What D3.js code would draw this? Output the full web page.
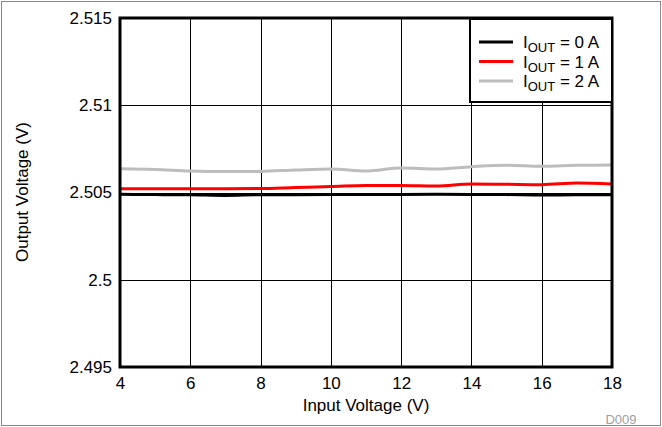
<!DOCTYPE html>
<html><head><meta charset="utf-8">
<script src="https://cdn.jsdelivr.net/npm/d3@7"></script>
<style>body{margin:0;background:#fff}svg{display:block;font-family:"Liberation Sans",Arial,sans-serif}</style>
</head><body><svg id="c" width="662" height="427"></svg>
<script>
const vin = [4,5,6,7,8,9,10,11,12,13,14,15,16,17,18];
const iout0 = [2.50490,2.50488,2.50487,2.50483,2.50487,2.50487,2.50488,2.50488,2.50489,2.50490,2.50489,2.50488,2.50485,2.50487,2.50487];
const iout1 = [2.50522,2.50522,2.50522,2.50522,2.50523,2.50529,2.50534,2.50540,2.50540,2.50537,2.50549,2.50547,2.50545,2.50554,2.50549];
const iout2 = [2.50636,2.50632,2.50623,2.50620,2.50621,2.50629,2.50635,2.50623,2.50640,2.50635,2.50648,2.50656,2.50650,2.50656,2.50658];
const seriesNames = ["0 A","1 A","2 A"];
const seriesColors = ["#000000","#ff0000","#bdbdbd"];
const xTicks = [4,6,8,10,12,14,16,18];
const yTicks = [2.495,2.5,2.505,2.51,2.515];

const FONT = "Liberation Sans, Arial, sans-serif";
const svg = d3.select("#c");
svg.append("rect").attr("x",1.5).attr("y",1.5).attr("width",659).attr("height",424)
  .attr("fill","none").attr("stroke","#888").attr("stroke-width",1);

const L=120,R=612,T=18,B=367;
const x = d3.scaleLinear().domain([4,18]).range([L,R]);
const y = d3.scaleLinear().domain([2.495,2.515]).range([B,T]);

const g = svg.append("g");
g.selectAll(".vg").data(xTicks).join("line").attr("x1",d=>Math.round(x(d))+0.5).attr("x2",d=>Math.round(x(d))+0.5)
  .attr("y1",T).attr("y2",B).attr("stroke","#000").attr("stroke-width",1);
g.selectAll(".hg").data(yTicks).join("line").attr("y1",d=>Math.round(y(d))+0.5).attr("y2",d=>Math.round(y(d))+0.5)
  .attr("x1",L).attr("x2",R).attr("stroke","#000").attr("stroke-width",1);

const xAxis = d3.axisBottom(x).tickValues(xTicks).tickSize(0).tickPadding(10).tickFormat(d3.format("d"));
const xa = svg.append("g").attr("transform",`translate(0,${B})`).call(xAxis);
xa.select(".domain").remove();
xa.selectAll("text").attr("font-size",17).attr("fill","#000").attr("font-family",FONT);
const yAxis = d3.axisLeft(y).tickValues(yTicks).tickSize(0).tickPadding(8).tickFormat(d=>String(+d.toFixed(3)));
const ya = svg.append("g").attr("transform",`translate(${L},0)`).call(yAxis);
ya.select(".domain").remove();
ya.selectAll("text").attr("font-size",17).attr("fill","#000").attr("font-family",FONT);

const data = [iout0,iout1,iout2];
const line = d3.line().x((d,i)=>x(vin[i])).y(d=>y(d)).curve(d3.curveMonotoneX);
[2,1,0].forEach(k=>{
  svg.append("path").datum(data[k]).attr("d",line).attr("fill","none")
    .attr("stroke",seriesColors[k]).attr("stroke-width",3);
});

svg.append("rect").attr("x",L).attr("y",T).attr("width",R-L).attr("height",B-T)
  .attr("fill","none").attr("stroke","#000").attr("stroke-width",3);

const lg = svg.append("g");
lg.append("rect").attr("x",470).attr("y",T+1).attr("width",R-470).attr("height",83)
  .attr("fill","#fff").attr("stroke","#000").attr("stroke-width",2);
seriesNames.forEach((n,i)=>{
  const yy = 42 + i*19.5;
  lg.append("line").attr("x1",479).attr("x2",513).attr("y1",yy).attr("y2",yy)
    .attr("stroke",seriesColors[i]).attr("stroke-width",3);
  const t = lg.append("text").attr("x",523).attr("y",yy+6).attr("font-size",17).attr("fill","#000").attr("font-family",FONT);
  t.append("tspan").text("I");
  t.append("tspan").attr("font-size",13).attr("dy",4).text("OUT");
  t.append("tspan").attr("dy",-4).text(" = " + n);
});

svg.append("text").attr("x",366).attr("y",411).attr("text-anchor","middle").attr("font-size",17).attr("font-family",FONT).text("Input Voltage (V)");
svg.append("text").attr("transform","translate(28,192) rotate(-90)").attr("text-anchor","middle").attr("font-size",17).attr("font-family",FONT).text("Output Voltage (V)");
svg.append("text").attr("x",621).attr("y",424).attr("text-anchor","middle").attr("font-size",13).attr("fill","#a0a0a0").attr("font-family",FONT).text("D009");
</script></body></html>
